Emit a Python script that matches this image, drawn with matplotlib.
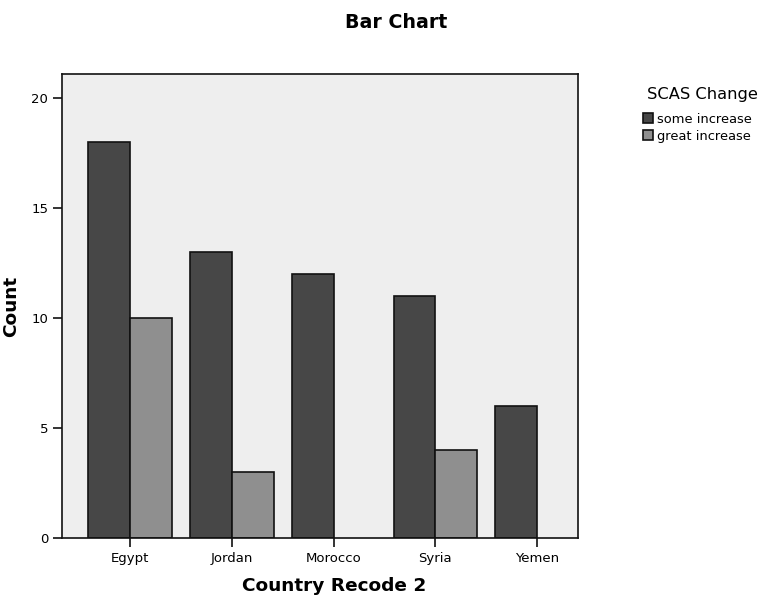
import matplotlib.pyplot as plt
import numpy as np

countries = ['Egypt', 'Jordan', 'Morocco', 'Syria', 'Yemen']
some_increase = [18, 13, 12, 11, 6]
great_increase = [10, 3, 0, 4, 0]
y_ticks = [0, 5, 10, 15, 20]


def main():
    fig = plt.figure(figsize=(7.61, 5.97), dpi=100)
    ax = fig.add_axes([0.0815, 0.0988, 0.678, 0.7772])
    ax.set_facecolor('#eeeeee')

    x = np.arange(len(countries))
    w = 0.41
    # zero counts get no bar at all
    some = np.where(np.array(some_increase) > 0, some_increase, np.nan)
    great = np.where(np.array(great_increase) > 0, great_increase, np.nan)
    ax.bar(x - w / 2, some, w, color='#474747', edgecolor='#111111',
           linewidth=1.2, label='some increase')
    ax.bar(x + w / 2, great, w, color='#8f8f8f', edgecolor='#111111',
           linewidth=1.2, label='great increase')

    ax.set_xlim(-0.667, 4.4)
    ax.set_ylim(0, 21.1)
    ax.set_xticks(x)
    ax.set_xticklabels(countries, fontsize=9.5)
    ax.set_yticks(y_ticks)
    ax.set_yticklabels([str(t) for t in y_ticks], fontsize=9.5)
    ax.tick_params(direction='out', length=6.5, width=1.2, color='#111111')
    for s in ax.spines.values():
        s.set_linewidth(1.2)
        s.set_color('#111111')

    ax.set_xlabel('Country Recode 2', fontsize=13.3, fontweight='bold', labelpad=8)
    ax.xaxis.set_label_coords(0.527, -0.085)
    ax.set_ylabel('Count', fontsize=13.3, fontweight='bold', labelpad=8)
    fig.text(0.52, 0.963, 'Bar Chart', ha='center', va='center',
             fontsize=13.7, fontweight='bold')

    # legend title written separately, SPSS leaves a bigger gap under it
    fig.text(647 / 761, 1 - 95 / 597, 'SCAS Change', ha='left', va='center',
             fontsize=11.7)
    ax.legend(loc='upper left', bbox_to_anchor=(643 / 761, 1 - 113 / 597),
              bbox_transform=fig.transFigure, frameon=False,
              fontsize=9.4, handlelength=0.8, handleheight=0.8,
              handletextpad=0.3, labelspacing=0.3, borderaxespad=0,
              borderpad=0)

    fig.savefig('out.png', dpi=100)


if __name__ == '__main__':
    main()
